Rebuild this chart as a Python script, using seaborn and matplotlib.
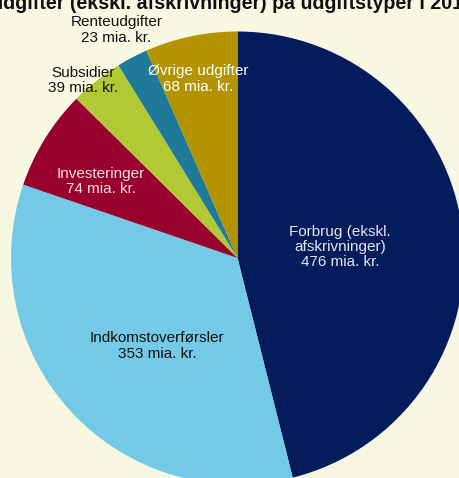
import matplotlib
matplotlib.use("Agg")
import matplotlib.pyplot as plt
import seaborn as sns
import numpy as np

categories = ["Forbrug (ekskl.\nafskrivninger)", "Indkomstoverførsler", "Investeringer",
              "Subsidier", "Renteudgifter", "Øvrige udgifter"]
values = [476, 353, 74, 39, 23, 68]
unit = "mia. kr."
title = "Offentlige udgifter (ekskl. afskrivninger) på udgiftstyper i 2014"

colors = sns.color_palette(["#041C5B", "#74C9E6", "#98002E", "#B2C936", "#1F7A9A", "#B39300"])
text_colors = ["#E4E4EC", "#111111", "#F0E0E6", "#111111", "#111111", "#FFFFFF"]
label_dist = [0.455, 0.527, 0.69, 1.04, 1.14, 0.81]
label_turn = [-1.0, 5.0, 2.5, 2.5, 0.3, 0.6]

sns.set_theme(style="white")
plt.rcParams["font.family"] = ["Liberation Sans", "DejaVu Sans"]

bg = "#F8F8E2"
W, H = 459, 478
fig = plt.figure(figsize=(W / 100, H / 100), dpi=100, facecolor=bg)
cx, cy, R = 237.5, 258, 226.5
ax = fig.add_axes([(cx - R) / W, (H - cy - R) / H, 2 * R / W, 2 * R / H])
ax.set_facecolor(bg)

wedges, _ = ax.pie(values, colors=colors, startangle=90, counterclock=False,
                   radius=1, wedgeprops=dict(linewidth=0))
for w, cat, v, tc, d, t in zip(wedges, categories, values, text_colors, label_dist, label_turn):
    ang = np.deg2rad((w.theta1 + w.theta2) / 2 + t)
    ax.text(d * np.cos(ang), d * np.sin(ang), f"{cat}\n{v} {unit}",
            ha="center", va="center", color=tc, fontsize=11, linespacing=1.12)
ax.set_xlim(-1, 1)
ax.set_ylim(-1, 1)
ax.set_aspect("equal")
ax.axis("off")

fig.text(474 / W, (H - 9) / H, title, ha="right", va="baseline",
         fontsize=14.1, fontweight="bold", color="#111111")

fig.savefig("out.png", dpi=100, facecolor=bg)
